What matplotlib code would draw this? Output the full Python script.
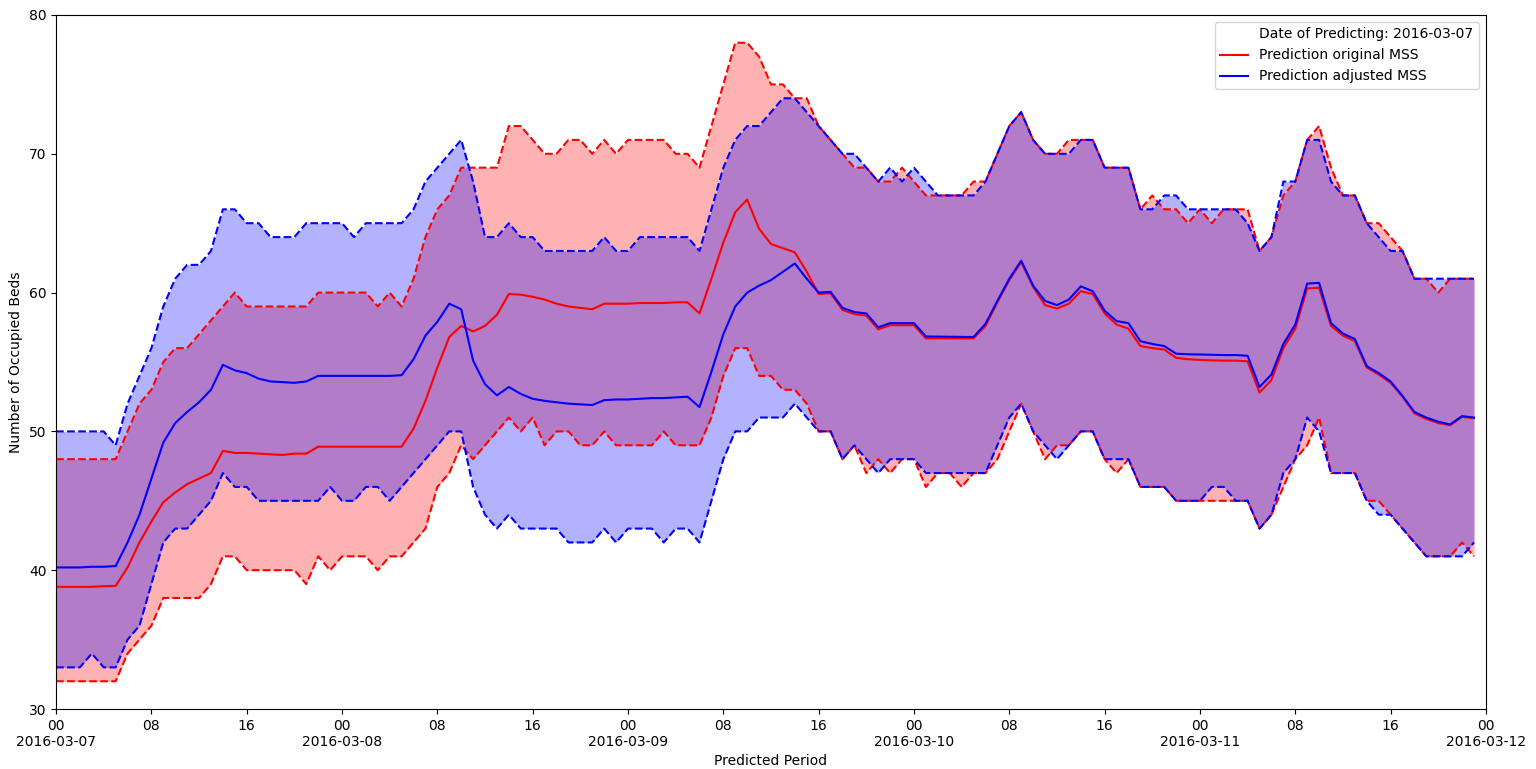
import matplotlib
matplotlib.use('Agg')
import matplotlib.pyplot as plt
import matplotlib.dates as mdates
import pandas as pd

# hourly predictions, 2016-03-07 00:00 .. 2016-03-11 23:00
hours = pd.date_range('2016-03-07 00:00', periods=120, freq='h')

orig_upper = [48, 48, 48, 48, 48, 48,
              50, 52, 53, 55, 56, 56, 57, 58,
              59, 60, 59, 59, 59, 59, 59, 59,
              60, 60, 60, 60, 60, 59, 60, 59,
              61, 64, 66, 67, 69, 69, 69, 69, 72, 72,
              71, 70, 70, 71, 71, 70, 71, 70, 71, 71, 71, 71, 70, 70, 69,
              72, 75, 78, 78, 77, 75, 75, 74, 74,
              72, 71, 70, 69, 69, 68, 68, 69, 68, 67, 67, 67, 67, 68, 68,
              70, 72, 73, 71, 70, 70, 71, 71, 71, 69, 69, 69,
              66, 67, 66, 66, 65, 66, 65, 66, 66, 66,
              63, 64, 67, 68, 71, 72, 69, 67, 67, 65, 65, 64, 63,
              61, 61, 60, 61, 61, 61]

orig_lower = [32, 32, 32, 32, 32, 32,
              34, 35, 36, 38, 38, 38, 38, 39,
              41, 41, 40, 40, 40, 40, 40, 39,
              41, 40, 41, 41, 41, 40, 41, 41,
              42, 43, 46, 47, 49, 48, 49, 50, 51, 50,
              51, 49, 50, 50, 49, 49, 50, 49, 49, 49, 49, 50, 49, 49, 49,
              51, 54, 56, 56, 54, 54, 53, 53, 52,
              50, 50, 48, 49, 47, 48, 47, 48, 48, 46, 47, 47, 46, 47, 47,
              48, 50, 52, 50, 48, 49, 49, 50, 50, 48, 47, 48,
              46, 46, 46, 45, 45, 45, 45, 45, 45, 45,
              43, 44, 46, 48, 49, 51, 47, 47, 47, 45, 45, 44, 43,
              42, 41, 41, 41, 42, 41]

orig_median = [38.8, 38.8, 38.8, 38.8, 38.85, 38.87,
               40.2, 42.0, 43.5, 44.9, 45.6, 46.2, 46.6, 47.0,
               48.6, 48.45, 48.45, 48.4, 48.35, 48.3, 48.4, 48.4,
               48.9, 48.9, 48.9, 48.9, 48.9, 48.9, 48.9, 48.9,
               50.2, 52.2, 54.6, 56.8, 57.6, 57.2, 57.6, 58.4, 59.9, 59.85,
               59.7, 59.5, 59.2, 59.0, 58.9, 58.8, 59.2, 59.2, 59.2, 59.25,
               59.25, 59.25, 59.3, 59.3, 58.5,
               61.0, 63.6, 65.8, 66.7, 64.6, 63.5, 63.2, 62.9,
               61.5, 59.9, 59.95, 58.75, 58.45, 58.35, 57.35, 57.65, 57.65,
               57.65, 56.7, 56.7, 56.7, 56.7, 56.7, 57.6, 59.3,
               60.9, 62.2, 60.4, 59.1, 58.85, 59.2, 60.1, 59.9, 58.5, 57.7,
               57.4, 56.15, 56.0, 55.9, 55.3, 55.2, 55.15, 55.12, 55.1, 55.1,
               55.05, 52.8, 53.7, 56.0, 57.4, 60.3, 60.35, 57.6, 56.9, 56.5,
               54.6, 54.1, 53.5, 52.5, 51.3, 50.9, 50.6, 50.45, 51.05, 50.95]

adj_upper = [50, 50, 50, 50, 50, 49,
             52, 54, 56, 59, 61, 62, 62, 63,
             66, 66, 65, 65, 64, 64, 64, 65,
             65, 65, 65, 64, 65, 65, 65, 65,
             66, 68, 69, 70, 71, 68, 64, 64, 65, 64,
             64, 63, 63, 63, 63, 63, 64, 63, 63, 64, 64, 64, 64, 64, 63,
             66, 69, 71, 72, 72, 73, 74, 74, 73,
             72, 71, 70, 70, 69, 68, 69, 68, 69, 68, 67, 67, 67, 67, 68,
             70, 72, 73, 71, 70, 70, 70, 71, 71, 69, 69, 69,
             66, 66, 67, 67, 66, 66, 66, 66, 66, 65,
             63, 64, 68, 68, 71, 71, 68, 67, 67, 65, 64, 63, 63,
             61, 61, 61, 61, 61, 61]

adj_lower = [33, 33, 33, 34, 33, 33,
             35, 36, 39, 42, 43, 43, 44, 45,
             47, 46, 46, 45, 45, 45, 45, 45,
             45, 46, 45, 45, 46, 46, 45, 46,
             47, 48, 49, 50, 50, 46, 44, 43, 44, 43,
             43, 43, 43, 42, 42, 42, 43, 42, 43, 43, 43, 42, 43, 43, 42,
             45, 48, 50, 50, 51, 51, 51, 52, 51,
             50, 50, 48, 49, 48, 47, 48, 48, 48, 47, 47, 47, 47, 47, 47,
             49, 51, 52, 50, 49, 48, 49, 50, 50, 48, 48, 48,
             46, 46, 46, 45, 45, 45, 46, 46, 45, 45,
             43, 44, 47, 48, 51, 50, 47, 47, 47, 45, 44, 44, 43,
             42, 41, 41, 41, 41, 42]

adj_median = [40.2, 40.2, 40.2, 40.25, 40.25, 40.3,
              42.0, 44.0, 46.6, 49.2, 50.6, 51.4, 52.1, 53.0,
              54.8, 54.4, 54.2, 53.8, 53.6, 53.55, 53.5, 53.6,
              54.0, 54.0, 54.0, 54.0, 54.0, 54.0, 54.0, 54.05,
              55.2, 56.9, 57.9, 59.2, 58.8, 55.1, 53.4, 52.6, 53.2, 52.7,
              52.35, 52.2, 52.1, 52.0, 51.95, 51.9, 52.25, 52.3, 52.3, 52.35,
              52.4, 52.4, 52.45, 52.5, 51.75,
              54.3, 57.0, 59.0, 60.0, 60.5, 60.9, 61.5, 62.1,
              61.0, 60.0, 60.05, 58.9, 58.6, 58.5, 57.5, 57.8, 57.8,
              57.8, 56.84, 56.83, 56.82, 56.81, 56.8, 57.75, 59.4,
              61.0, 62.3, 60.5, 59.4, 59.1, 59.5, 60.45, 60.1, 58.7, 57.95,
              57.8, 56.5, 56.3, 56.15, 55.6, 55.56, 55.54, 55.52, 55.5, 55.5,
              55.45, 53.2, 54.1, 56.3, 57.7, 60.65, 60.7, 57.8, 57.05, 56.66,
              54.7, 54.2, 53.6, 52.55, 51.4, 51.0, 50.7, 50.5, 51.1, 51.0]

fig, ax = plt.subplots(figsize=(15.36, 7.69), dpi=100)
fig.subplots_adjust(left=0.0365, right=0.9674, top=0.9805, bottom=0.078)

# blank entry used as legend title line
ax.plot([], [], ' ', label='Date of Predicting: 2016-03-07')

ax.fill_between(hours, orig_lower, orig_upper, color='red', alpha=0.3, linewidth=0)
ax.plot(hours, orig_upper, 'r--', linewidth=1.5)
ax.plot(hours, orig_lower, 'r--', linewidth=1.5)
ax.plot(hours, orig_median, 'r-', linewidth=1.5, label='Prediction original MSS')

ax.fill_between(hours, adj_lower, adj_upper, color='blue', alpha=0.3, linewidth=0)
ax.plot(hours, adj_upper, 'b--', linewidth=1.5)
ax.plot(hours, adj_lower, 'b--', linewidth=1.5)
ax.plot(hours, adj_median, 'b-', linewidth=1.5, label='Prediction adjusted MSS')


def hour_fmt(x, pos):
    d = mdates.num2date(x)
    if d.hour == 0:
        return d.strftime('%H\n%Y-%m-%d')
    return d.strftime('%H')


ax.xaxis.set_major_locator(mdates.HourLocator(byhour=[0, 8, 16]))
ax.xaxis.set_major_formatter(plt.FuncFormatter(hour_fmt))
ax.set_xlim(pd.Timestamp('2016-03-07'), pd.Timestamp('2016-03-12'))
ax.set_ylim(30, 80)
ax.set_yticks(range(30, 81, 10))
ax.tick_params(labelsize=10)

ax.set_xlabel('Predicted Period', fontsize=10)
ax.set_ylabel('Number of Occupied Beds', fontsize=10)
ax.legend(loc='upper right', fontsize=10)

fig.savefig('out.png', dpi=100)
